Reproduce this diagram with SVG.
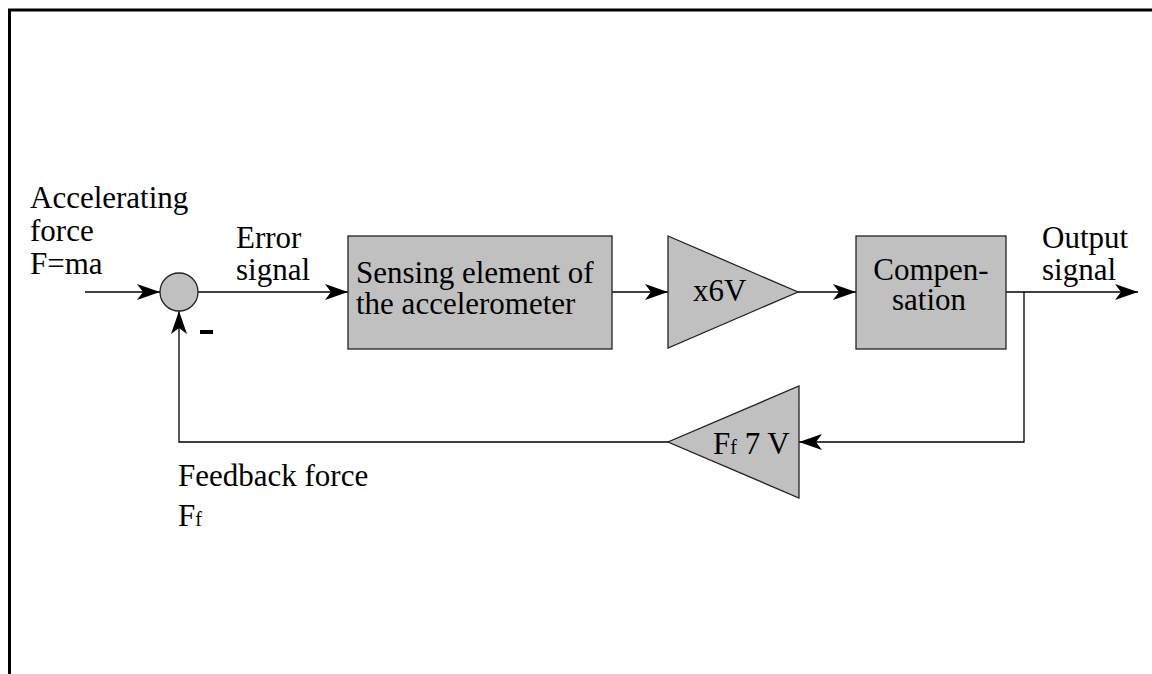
<svg xmlns="http://www.w3.org/2000/svg" width="1152" height="674" viewBox="0 0 1152 674">
<defs>
<style>
text{font-family:"Liberation Serif","Times New Roman",serif;font-size:31px;fill:#000}
.blk{fill:#c0c0c0;stroke:#222;stroke-width:1.3}
.ln{fill:none;stroke:#000;stroke-width:1.3}
.sub{font-size:20px}
</style>
<marker id="ah" markerUnits="userSpaceOnUse" markerWidth="26" markerHeight="18" viewBox="-24 -9 26 18" refX="0" refY="0" orient="auto">
<path d="M-23,-8 L0,0 L-23,8 L-17,0 z" fill="#000"/>
</marker>
</defs>
<rect width="1152" height="674" fill="#fff"/>
<path d="M9.5,674 V10 H1152" fill="none" stroke="#000" stroke-width="3"/>
<g id="connectors">
<path class="ln" d="M85,292 H160" marker-end="url(#ah)"/>
<path class="ln" d="M198,292 H348" marker-end="url(#ah)"/>
<path class="ln" d="M612,292 H668" marker-end="url(#ah)"/>
<path class="ln" d="M798,292 H856" marker-end="url(#ah)"/>
<path class="ln" d="M1006,292 H1138" marker-end="url(#ah)"/>
<path class="ln" d="M1024,292 V442 H799" marker-end="url(#ah)"/>
<path class="ln" d="M668,442 H179 V311" marker-end="url(#ah)"/>
</g>
<g id="input-label">
<text x="30" y="208">Accelerating</text>
<text x="30" y="241">force</text>
<text x="30" y="274">F=ma</text>
</g>
<g id="sum">
<circle class="blk" cx="179" cy="292" r="19"/>
<rect x="200" y="330" width="13" height="4" fill="#000"/>
</g>
<g id="error-label">
<text x="236" y="248">Error</text>
<text x="236" y="280">signal</text>
</g>
<g id="sensing">
<rect class="blk" x="348" y="236" width="264" height="113"/>
<text x="356" y="283">Sensing element of</text>
<text x="356" y="314">the accelerometer</text>
</g>
<g id="amp">
<path class="blk" d="M668,236 L798,292 L668,348 z"/>
<text x="693" y="301">x6V</text>
</g>
<g id="compensation">
<rect class="blk" x="856" y="236" width="150" height="113"/>
<text x="931" y="280" text-anchor="middle">Compen-</text>
<text x="929" y="310" text-anchor="middle">sation</text>
</g>
<g id="output-label">
<text x="1042" y="248">Output</text>
<text x="1042" y="280">signal</text>
</g>
<g id="feedback">
<path class="blk" d="M799,386 L799,498 L668,442 z"/>
<text x="713" y="454">F<tspan class="sub">f</tspan> 7 V</text>
</g>
<g id="feedback-label">
<text x="178" y="486">Feedback force</text>
<text x="178" y="526">F<tspan class="sub">f</tspan></text>
</g>
</svg>
